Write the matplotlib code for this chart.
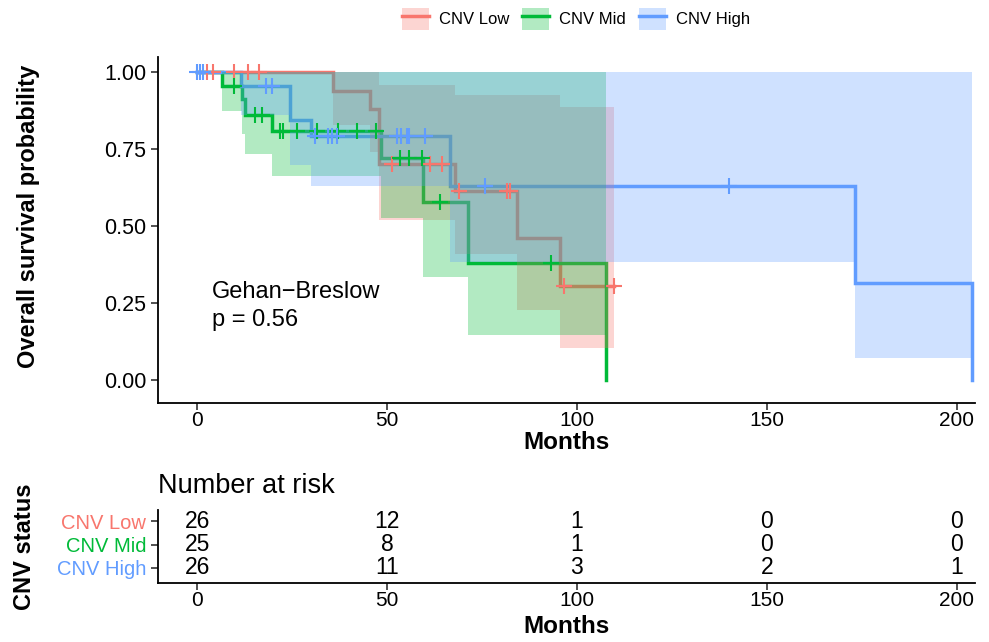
import numpy as np
import matplotlib
matplotlib.use("Agg")
import matplotlib.pyplot as plt
from matplotlib.patches import Patch
from matplotlib.lines import Line2D

plt.rcParams['font.family'] = ['Liberation Sans', 'DejaVu Sans']

# --- data (months, survival, 95% CI) ---
groups = ["CNV Low", "CNV Mid", "CNV High"]
colors = ["#F8766D", "#00BA38", "#619CFF"]

low_t = [0, 35.9, 45.5, 48.0, 67.9, 84.1, 95.5, 109.7]
low_s = [1.0, 0.938, 0.88, 0.703, 0.615, 0.46, 0.305, 0.305]
low_lo = [1.0, 0.83, 0.74, 0.52, 0.41, 0.227, 0.103, 0.103]
low_hi = [1.0, 1.0, 1.0, 0.958, 0.925, 0.925, 0.887, 0.887]
low_cens = [2.5, 4.1, 9.6, 13.3, 16.4, 51.2, 61.3, 64.4, 69.0, 81.5, 82.4, 96.6, 109.7]

mid_t = [0, 6.5, 11.7, 12.6, 19.6, 48.3, 59.6, 71.4, 107.6]
mid_s = [1.0, 0.955, 0.915, 0.862, 0.81, 0.72, 0.577, 0.381, 0.0]
mid_lo = [1.0, 0.874, 0.80, 0.733, 0.663, 0.525, 0.336, 0.145, 0.145]
mid_hi = [1.0, 1.0, 1.0, 1.0, 1.0, 1.0, 1.0, 1.0, 1.0]
mid_cens = [9.7, 15.3, 17.2, 21.8, 22.7, 26.2, 31.5, 37.1, 42.0, 47.2,
            53.4, 55.8, 59.3, 63.9, 93.3]

high_t = [0, 11.5, 24.5, 30.0, 66.6, 173.2, 203.9]
high_s = [1.0, 0.955, 0.844, 0.792, 0.631, 0.314, 0.0]
high_lo = [1.0, 0.86, 0.698, 0.63, 0.385, 0.072, 0.072]
high_hi = [1.0, 1.0, 1.0, 1.0, 1.0, 1.0, 1.0]
high_cens = [0.0, 0.8, 1.6, 18.2, 19.8, 31.0, 34.5, 35.4, 36.7, 52.5,
             53.8, 55.3, 55.8, 60.0, 75.8, 140.0]

risk_times = [0, 50, 100, 150, 200]
risk_low = [26, 12, 1, 0, 0]
risk_mid = [25, 8, 1, 0, 0]
risk_high = [26, 11, 3, 2, 1]

curves = [
    (low_t, low_s, low_lo, low_hi, low_cens),
    (mid_t, mid_s, mid_lo, mid_hi, mid_cens),
    (high_t, high_s, high_lo, high_hi, high_cens),
]

W, H = 989, 642
fig = plt.figure(figsize=(W / 100, H / 100), dpi=100)

def px_axes(x0, y0, x1, y1):
    return fig.add_axes([x0 / W, 1 - y1 / H, (x1 - x0) / W, (y1 - y0) / H])

ax = px_axes(158, 57, 975, 403)

# lines first, ribbons over them, censor marks on top (as survminer does)
for (t, s, lo, hi, cens), c in zip(curves, colors):
    ax.step(t, s, where='post', color=c, lw=2.5, zorder=2, solid_joinstyle='miter')
for (t, s, lo, hi, cens), c in zip(curves, colors):
    ax.fill_between(t, lo, hi, step='post', color=c, alpha=0.3, lw=0, zorder=3)
for (t, s, lo, hi, cens), c in zip(curves, colors):
    idx = np.searchsorted(t, cens, side='right') - 1
    ax.plot(cens, np.array(s)[idx], ls='none', marker='+', ms=12, mew=1.5,
            color=c, zorder=4)

ax.set_xlim(-10.3, 204.8)
ax.set_ylim(-0.075, 1.05)
ax.set_xticks([0, 50, 100, 150, 200])
ax.set_yticks([0, 0.25, 0.5, 0.75, 1.0])
ax.set_yticklabels(["0.00", "0.25", "0.50", "0.75", "1.00"])
for sp in ["top", "right"]:
    ax.spines[sp].set_visible(False)
for sp in ["left", "bottom"]:
    ax.spines[sp].set_linewidth(1.3)
ax.tick_params(labelsize=15.5, length=5, width=1.2, colors='#333333', labelcolor='black')
ax.tick_params(axis='x', pad=1, labelsize=15)
ax.set_xlabel("Months", fontsize=17.5, fontweight='bold')
ax.xaxis.set_label_coords(0.5, -(431 - 403) / 346)
ax.set_ylabel("Overall survival probability", fontsize=17, fontweight='bold')
ax.yaxis.set_label_coords(-(158 - 40) / 817, (403 - 216) / 346)
ax.text(4, 0.24, "Gehan\u2212Breslow\np = 0.56", fontsize=17, va='center', ha='left',
        linespacing=1.35)

handles = [(Patch(facecolor=c, alpha=0.3, lw=0), Line2D([], [], color=c, lw=2.5))
           for c in colors]
fig.legend(handles, groups, loc='center', bbox_to_anchor=(576 / W, 1 - 19 / H), ncol=3,
           frameon=False, fontsize=12, handlelength=1.6, handleheight=1.6,
           handletextpad=0.6, columnspacing=0.8)

# --- risk table ---
rt = px_axes(158, 510, 975, 583)
rows = [risk_low, risk_mid, risk_high]
ypos = [3, 2, 1]
for vals, y in zip(rows, ypos):
    for tx, v in zip(risk_times, vals):
        rt.text(tx, y, str(v), ha='center', va='center', fontsize=16.5)
rt.set_xlim(-10.3, 204.8)
rt.set_ylim(0.36, 3.47)
rt.set_xticks(risk_times)
rt.set_yticks(ypos)
rt.set_yticklabels(groups)
for sp in ["top", "right"]:
    rt.spines[sp].set_visible(False)
for sp in ["left", "bottom"]:
    rt.spines[sp].set_linewidth(1.3)
rt.tick_params(labelsize=15, length=5, width=1.2, colors='#333333', labelcolor='black')
rt.tick_params(axis='y', labelsize=14.5)
rt.tick_params(axis='x', pad=1)
for lab, c in zip(rt.get_yticklabels(), colors):
    lab.set_color(c)
rt.set_xlabel("Months", fontsize=17.5, fontweight='bold')
rt.xaxis.set_label_coords(0.5, -(615 - 583) / 73)
rt.set_ylabel("CNV status", fontsize=17, fontweight='bold')
rt.yaxis.set_label_coords(-(158 - 36) / 817, 0.5)
rt.set_title("Number at risk", loc='left', fontsize=19.5, pad=12)

fig.savefig("out.png", dpi=100)
